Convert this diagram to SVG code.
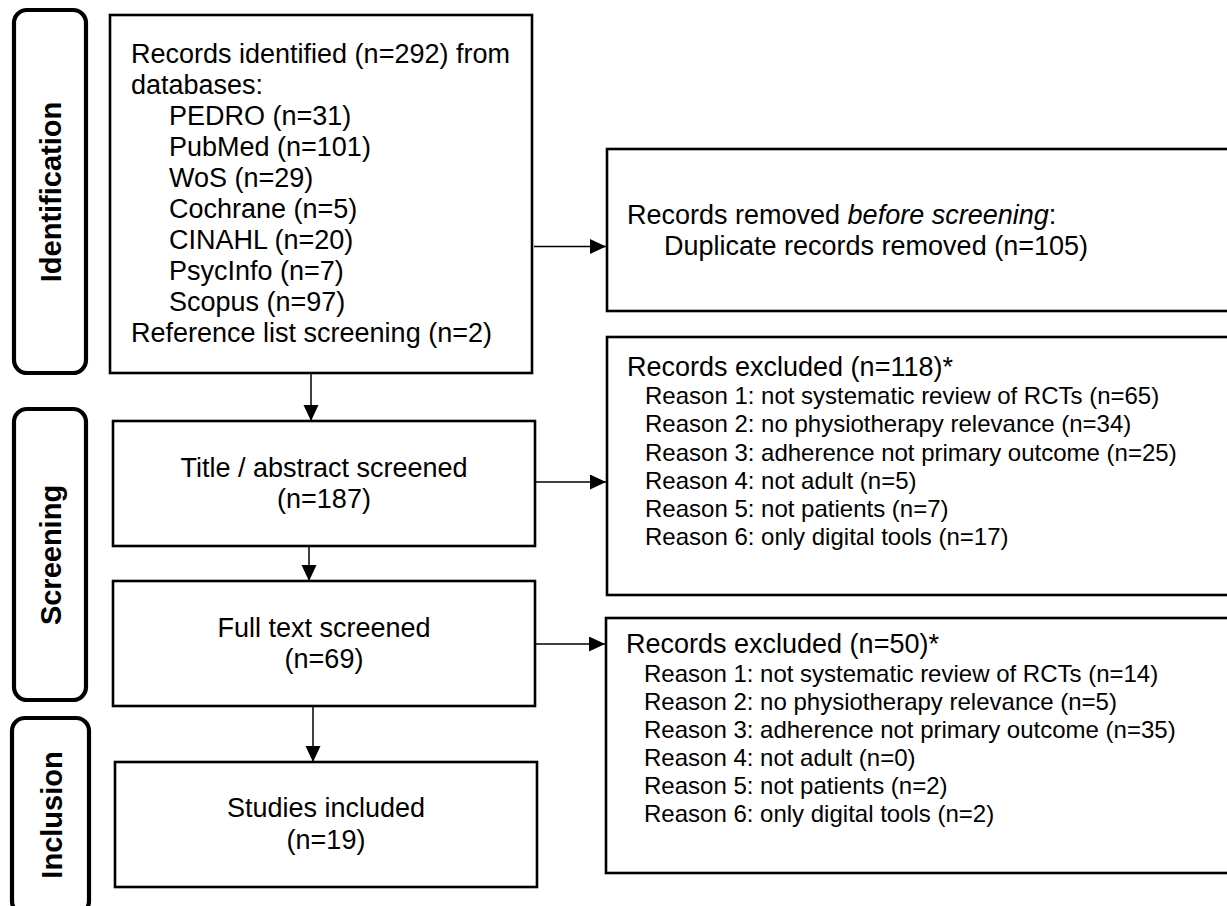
<svg xmlns="http://www.w3.org/2000/svg" width="1227" height="906" viewBox="0 0 1227 906">
<style>
text{font-family:"Liberation Sans",Arial,Helvetica,sans-serif;fill:#000}
.t27{font-size:27px}
.t24{font-size:24px}
.lab{font-size:29px;font-weight:bold;text-anchor:middle}
.mid{text-anchor:middle}
.box{fill:#fff;stroke:#000;stroke-width:2.6}
.phase{fill:#fff;stroke:#000;stroke-width:4.2}
.conn{stroke:#000;stroke-width:1.5;fill:none}
</style>
<defs>
<marker id="ah" markerUnits="userSpaceOnUse" markerWidth="16" markerHeight="16" refX="16" refY="7.5" orient="auto">
<path d="M0,0 L16,7.5 L0,15 Z" fill="#000"/>
</marker>
</defs>
<rect width="1227" height="906" fill="#fff"/>

<g id="phase-identification">
<rect class="phase" x="14" y="10" width="72" height="363" rx="13"/>
<text class="lab" transform="translate(61,192) rotate(-90)">Identification</text>
</g>
<g id="phase-screening">
<rect class="phase" x="14" y="409" width="72" height="291" rx="13"/>
<text class="lab" transform="translate(61,555) rotate(-90)">Screening</text>
</g>
<g id="phase-inclusion">
<rect class="phase" x="12" y="718" width="77" height="196" rx="13"/>
<text class="lab" transform="translate(61.5,815) rotate(-90)">Inclusion</text>
</g>

<g id="node-identified">
<rect class="box" x="110" y="15" width="422" height="358"/>
<text class="t27" x="131" y="63">Records identified (n=292) from</text>
<text class="t27" x="131" y="94">databases:</text>
<text class="t27" x="169" y="125">PEDRO (n=31)</text>
<text class="t27" x="169" y="156">PubMed (n=101)</text>
<text class="t27" x="169" y="187">WoS (n=29)</text>
<text class="t27" x="169" y="218">Cochrane (n=5)</text>
<text class="t27" x="169" y="249">CINAHL (n=20)</text>
<text class="t27" x="169" y="280">PsycInfo (n=7)</text>
<text class="t27" x="169" y="311">Scopus (n=97)</text>
<text class="t27" x="131" y="342">Reference list screening (n=2)</text>
</g>

<g id="node-title-abstract">
<rect class="box" x="113" y="421" width="422" height="125"/>
<text class="t27 mid" x="324" y="477">Title / abstract screened</text>
<text class="t27 mid" x="324" y="508">(n=187)</text>
</g>

<g id="node-full-text">
<rect class="box" x="113" y="581" width="422" height="125"/>
<text class="t27 mid" x="324" y="637">Full text screened</text>
<text class="t27 mid" x="324" y="668">(n=69)</text>
</g>

<g id="node-included">
<rect class="box" x="115" y="762" width="422" height="125"/>
<text class="t27 mid" x="326" y="817">Studies included</text>
<text class="t27 mid" x="326" y="849">(n=19)</text>
</g>

<g id="node-removed">
<rect class="box" x="607" y="149" width="640" height="162"/>
<text class="t27" x="627" y="224">Records removed <tspan font-style="italic">before screening</tspan>:</text>
<text class="t27" x="664" y="255">Duplicate records removed (n=105)</text>
</g>

<g id="node-excluded-1">
<rect class="box" x="607" y="337" width="640" height="258"/>
<text class="t27" x="627" y="376">Records excluded (n=118)*</text>
<text class="t24" x="645" y="404">Reason 1: not systematic review of RCTs (n=65)</text>
<text class="t24" x="645" y="432">Reason 2: no physiotherapy relevance (n=34)</text>
<text class="t24" x="645" y="461">Reason 3: adherence not primary outcome (n=25)</text>
<text class="t24" x="645" y="489">Reason 4: not adult (n=5)</text>
<text class="t24" x="645" y="517">Reason 5: not patients (n=7)</text>
<text class="t24" x="645" y="545">Reason 6: only digital tools (n=17)</text>
</g>

<g id="node-excluded-2">
<rect class="box" x="606" y="618" width="640" height="255"/>
<text class="t27" x="626" y="653">Records excluded (n=50)*</text>
<text class="t24" x="644" y="682">Reason 1: not systematic review of RCTs (n=14)</text>
<text class="t24" x="644" y="710">Reason 2: no physiotherapy relevance (n=5)</text>
<text class="t24" x="644" y="738">Reason 3: adherence not primary outcome (n=35)</text>
<text class="t24" x="644" y="766">Reason 4: not adult (n=0)</text>
<text class="t24" x="644" y="794">Reason 5: not patients (n=2)</text>
<text class="t24" x="644" y="822">Reason 6: only digital tools (n=2)</text>
</g>

<g id="connectors">
<line class="conn" x1="534" y1="246.5" x2="606" y2="246.5" marker-end="url(#ah)"/>
<line class="conn" x1="536" y1="482" x2="606" y2="482" marker-end="url(#ah)"/>
<line class="conn" x1="536" y1="644" x2="605" y2="644" marker-end="url(#ah)"/>
<line class="conn" x1="311" y1="374" x2="311" y2="421" marker-end="url(#ah)"/>
<line class="conn" x1="309" y1="547" x2="309" y2="581" marker-end="url(#ah)"/>
<line class="conn" x1="313" y1="707" x2="313" y2="762" marker-end="url(#ah)"/>
</g>
</svg>
